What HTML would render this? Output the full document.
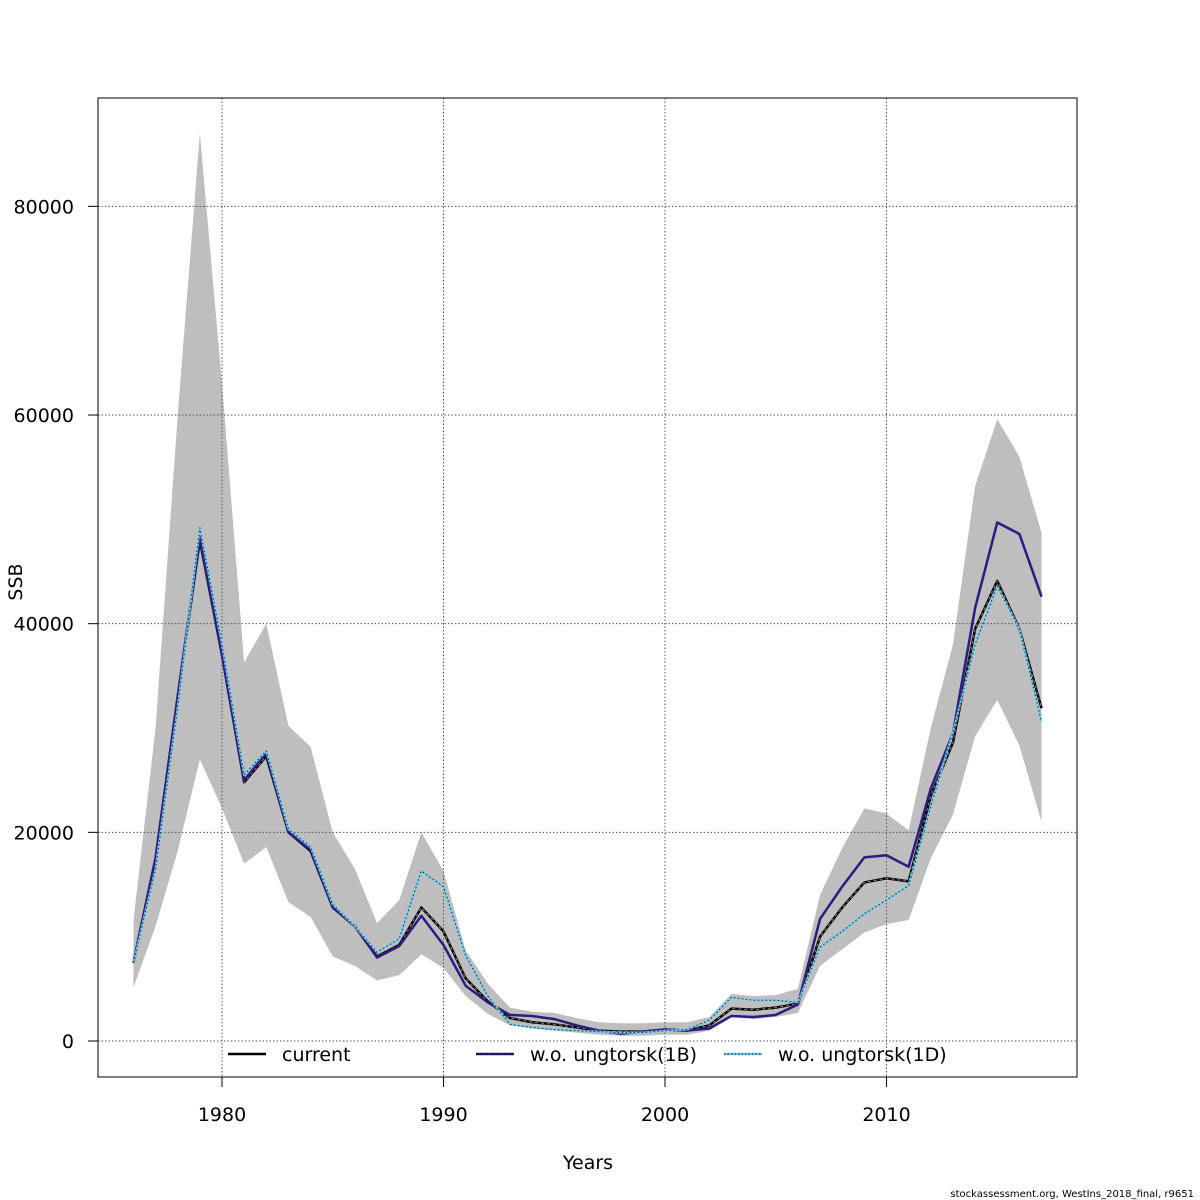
<!DOCTYPE html>
<html><head><meta charset="utf-8"><style>
body{margin:0;background:#fff}
svg{display:block;font-family:"DejaVu Sans","Liberation Sans",sans-serif}
</style></head><body>
<svg id="chart" width="1200" height="1200" viewBox="0 0 1200 1200" xmlns="http://www.w3.org/2000/svg">
<rect width="1200" height="1200" fill="#fff"/>
<g id="band"></g>
<g id="grid"></g>
<g id="series"></g>
<g id="axes"></g>
<g id="legend"></g>
<text x="588" y="1169" font-size="19" text-anchor="middle">Years</text>
<text x="22" y="582" font-size="19" text-anchor="middle" transform="rotate(-90 22 582)">SSB</text>
<text x="1194" y="1197" font-size="10" text-anchor="end">stockassessment.org, WestIns_2018_final, r9651</text>
</svg>
<script>
const years=[];for(let y=1976;y<=2017;y++)years.push(y);
const current=[7500,17500,33000,48000,37000,24800,27300,20000,18200,12800,11000,8100,9200,12800,10500,6000,3800,2200,1800,1600,1300,1000,900,900,1100,1000,1500,3100,3000,3200,3600,10000,12800,15200,15600,15300,23500,28600,39500,44100,39500,31900];
const ung1B=[7500,17500,33000,48300,37000,25000,27600,20000,18300,12800,11000,8000,9100,12000,9200,5300,3700,2500,2400,2100,1500,1000,700,900,1100,1000,1200,2400,2300,2500,3500,11700,14800,17600,17800,16700,24200,29500,41500,49700,48600,42600];
const ung1D=[7500,16500,32000,49200,38000,25500,27800,20300,18600,13100,11000,8500,9800,16300,14800,8200,4300,1600,1300,1100,1000,900,800,800,1000,1100,2000,4200,3900,3900,3700,9000,10500,12200,13500,14900,22500,29600,38000,43600,39500,30600];
const upper=[11500,30000,60000,87000,63000,36300,40000,30200,28200,20000,16500,11300,13500,20000,16300,8700,5500,3200,2800,2700,2200,1800,1700,1700,1800,1800,2300,4500,4300,4400,5000,14000,18500,22300,21800,20200,30000,38000,53200,59600,56000,48700];
const lower=[5100,11000,18200,27000,22300,17000,18600,13300,11900,8100,7200,5800,6300,8300,7000,4300,2600,1500,1200,1000,800,600,500,500,600,600,1000,2300,2100,2300,2700,7200,8800,10400,11200,11600,17500,21700,29200,32700,28300,21000];
const xTicks=[1980,1990,2000,2010];
const yTicks=[0,20000,40000,60000,80000];
const X=y=>222+(y-1980)*22.15;
const Y=v=>1041-v*0.010433;
const NS="http://www.w3.org/2000/svg";
function mk(p,t,a){const e=document.createElementNS(NS,t);for(const k in a)e.setAttribute(k,a[k]);p.appendChild(e);return e;}
const band=document.getElementById('band'),grid=document.getElementById('grid'),ser=document.getElementById('series'),ax=document.getElementById('axes'),lg=document.getElementById('legend');
let pts=years.map((y,i)=>X(y)+','+Y(upper[i]));
for(let i=years.length-1;i>=0;i--)pts.push(X(years[i])+','+Y(lower[i]));
const poly=mk(band,'polygon',{points:pts.join(' '),fill:'#bebebe',stroke:'none'});


xTicks.forEach(t=>{
 const l=mk(grid,'line',{x1:X(t),x2:X(t),y1:98,y2:1077,stroke:'#555','stroke-dasharray':'1.5,2','stroke-width':1});
 
 
 const k=mk(ax,'line',{x1:X(t),x2:X(t),y1:1077,y2:1087,stroke:'#000'});
 
 
 const tx=mk(ax,'text',{x:X(t),y:1121,'font-size':19,'text-anchor':'middle'});tx.textContent=t;
 
 
});
yTicks.forEach(t=>{
 const l=mk(grid,'line',{x1:98,x2:1077,y1:Y(t),y2:Y(t),stroke:'#555','stroke-dasharray':'1.5,2','stroke-width':1});
 
 
 const k=mk(ax,'line',{x1:88,x2:98,y1:Y(t),y2:Y(t),stroke:'#000'});
 
 
 const tx=mk(ax,'text',{x:74,y:Y(t)+7,'font-size':19,'text-anchor':'end'});tx.textContent=t;
 
 
});
const box=mk(ax,'rect',{x:98,y:98,width:979,height:979,fill:'none',stroke:'#000'});


function line(data,color,w,dash,name){
 const e=mk(ser,'polyline',{points:years.map((y,i)=>X(y)+','+Y(data[i])).join(' '),fill:'none',stroke:color,'stroke-width':w,'stroke-linejoin':'round'});
 if(dash)e.setAttribute('stroke-dasharray',dash);
 
 
}
line(current,'#000',2.5,null,'line-current');
line(current,'#888',1,'3,3','line-current-overlay');
line(ung1B,'#2e1a80',2.5,null,'line-1B');
line(ung1D,'#6ecff6',2,null,'line-1D');
line(ung1D,'#222',1,'1.5,2.5','line-1D-overlay');
const items=[[228,'#000',null,'current'],[476,'#2e1a80','#000','w.o. ungtorsk(1B)'],[724,'#6ecff6','#000','w.o. ungtorsk(1D)']];
items.forEach(([x,c,ov,label])=>{
 const l=mk(lg,'line',{x1:x,x2:x+38,y1:1054,y2:1054,stroke:c,'stroke-width':2.5});
 
 
 if(ov){mk(lg,'line',{x1:x,x2:x+38,y1:1054,y2:1054,stroke:ov,'stroke-width':1,'stroke-dasharray':'1.5,2'});}
 const t=mk(lg,'text',{x:x+54,y:1061,'font-size':19});t.textContent=label;
 
 
});
</script>
</body></html>
